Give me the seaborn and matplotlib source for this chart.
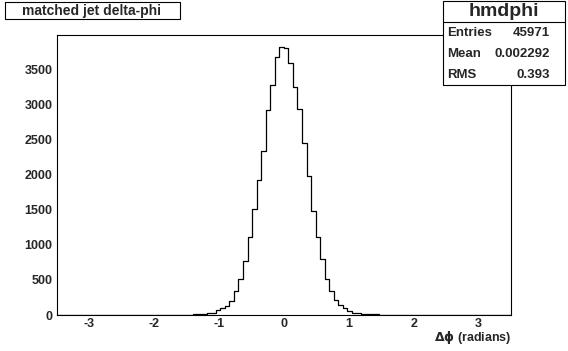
import numpy as np
import pandas as pd
import seaborn as sns
import matplotlib.pyplot as plt
from matplotlib.patches import Rectangle
from matplotlib.ticker import MultipleLocator

# histogram "hmdphi": 100 bins from -3.5 to 3.5
bin_lo, bin_hi, n_bins = -3.5, 3.5, 100

left_tail = [1, 1, 1, 1, 1, 1, 1, 1, 1, 1, 2, 2, 2, 2, 2, 2, 2, 2, 2, 3, 3, 3, 3, 3, 4,
             4, 4, 5, 5, 6, 8, 15, 18, 30, 35]
core = [70, 100, 125, 205, 340, 520, 775, 1110, 1515, 1920, 2330, 2920, 3280, 3680, 3825,
        3800, 3595, 3250, 2940, 2450, 1975, 1475, 1110, 795, 520, 335, 215, 145, 95, 55]
right_tail = [35, 25, 18, 14, 10, 8, 7, 6, 5, 5, 4, 4, 3, 3, 3, 3, 2, 2, 2, 2, 2, 2, 2, 2, 2,
              1, 1, 1, 1, 1, 1, 1, 1, 1, 1]
counts = left_tail + core + right_tail

x_ticks = [-3, -2, -1, 0, 1, 2, 3]
y_ticks = [0, 500, 1000, 1500, 2000, 2500, 3000, 3500]

hist_title = "matched jet delta-phi"
x_title = r"$\mathrm{\Delta\phi}$ (radians)"
stats_name = "hmdphi"
stats_rows = [("Entries", "45971"), ("Mean", "0.002292"), ("RMS", "0.393")]

edges = np.linspace(bin_lo, bin_hi, n_bins + 1)
df = pd.DataFrame({'dphi': (edges[:-1] + edges[1:]) / 2, 'n': counts})

sns.set_style("white")
plt.rcParams['font.family'] = ['Liberation Sans', 'DejaVu Sans']
plt.rcParams['font.weight'] = 'bold'
plt.rcParams['axes.unicode_minus'] = False
plt.rcParams['mathtext.fontset'] = 'dejavusans'

W, H = 568, 351
fig = plt.figure(figsize=(W / 100, H / 100), dpi=100)
ax = fig.add_axes([56.7 / W, 1 - 315 / H, (511 - 56.7) / W, (315 - 35) / H])

sns.histplot(data=df, x='dphi', weights='n', bins=n_bins, binrange=(bin_lo, bin_hi),
             element="step", fill=False, color="black", linewidth=0.9, ax=ax)

ax.set_xlim(bin_lo, bin_hi)
ax.set_ylim(0, 3990)
ax.set_xticks(x_ticks)
ax.set_yticks(y_ticks)
ax.xaxis.set_minor_locator(MultipleLocator(0.2))
ax.yaxis.set_minor_locator(MultipleLocator(100))
ax.tick_params(axis='both', which='both', direction='in', top=False, right=False,
               width=0.8, labelsize=9, color='black')
ax.tick_params(axis='x', which='major', length=6, pad=2)
ax.tick_params(axis='x', which='minor', length=3)
ax.tick_params(axis='y', which='major', length=10, pad=3)
ax.tick_params(axis='y', which='minor', length=5)
for lab in ax.get_xticklabels() + ax.get_yticklabels():
    lab.set_fontweight('bold')
for sp in ax.spines.values():
    sp.set_linewidth(0.8)
    sp.set_color('black')
ax.set_xlabel("")
ax.set_ylabel("")

ax.text(1.0, (315 - 338) / 280, x_title, transform=ax.transAxes, ha='right',
        va='center', fontsize=9, fontweight='bold')


def box(x0, y0, x1, y1):
    fig.add_artist(Rectangle((x0 / W, 1 - y1 / H), (x1 - x0) / W, (y1 - y0) / H,
                             transform=fig.transFigure, facecolor='white',
                             edgecolor='black', linewidth=0.8, zorder=5))


# title box
box(5, 2, 180, 19)
fig.text(92 / W, 1 - 10.5 / H, hist_title, ha='center', va='center', fontsize=10,
         fontweight='bold', zorder=6)

# stats box
box(443, 1, 565, 85)
fig.add_artist(plt.Line2D([443 / W, 565 / W], [1 - 22 / H, 1 - 22 / H],
                          transform=fig.transFigure, color='black', linewidth=0.8, zorder=6))
fig.text(504 / W, 1 - 11.5 / H, stats_name, ha='center', va='center', fontsize=14,
         fontweight='bold', zorder=6)
for i, (name, val) in enumerate(stats_rows):
    y = 1 - (32.5 + 21.1 * i) / H
    fig.text(447.5 / W, y, name, ha='left', va='center', fontsize=9.5, fontweight='bold', zorder=6)
    fig.text(550 / W, y, val, ha='right', va='center', fontsize=9.5, fontweight='bold', zorder=6)

fig.savefig("out.png", dpi=100)
